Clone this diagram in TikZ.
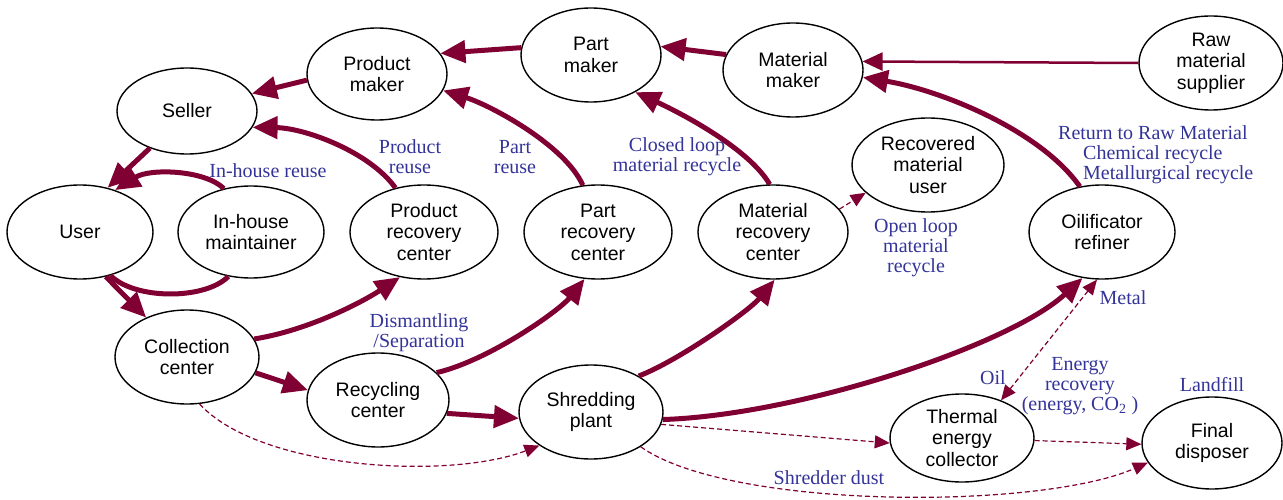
\documentclass[tikz,border=0pt]{standalone}
\usepackage{fontspec}
\setmainfont{Liberation Serif}
\setsansfont{Liberation Sans}
\usetikzlibrary{shapes.geometric,arrows.meta}
\definecolor{flow}{RGB}{128,0,51}
\definecolor{note}{RGB}{51,51,153}
\tikzset{
  actor/.style={ellipse, draw=black, line width=1.4pt, fill=white, inner sep=0pt,
    minimum width=146pt, minimum height=94pt, align=center,
    font=\sffamily\fontsize{19.5}{21.5}\selectfont},
  main/.style={draw=flow, line width=5pt, -{Triangle[length=25pt,width=22pt]}},
  feed/.style={draw=flow, line width=2.5pt, -{Triangle[length=20pt,width=18pt]}},
  side/.style={draw=flow, line width=1.2pt, dash pattern=on 5pt off 3pt,
    -{Triangle[length=15pt,width=13pt]}},
  tag/.style={text=note, align=center, inner sep=0pt,
    font=\rmfamily\fontsize{20}{20}\selectfont},
}
\begin{document}
\begin{tikzpicture}[x=1pt,y=-1pt]
\useasboundingbox (0,0) rectangle (1283,500);

% actors
\node[actor, minimum width=140pt, minimum height=86pt] (seller) at (187,111) {Seller};
\node[actor, minimum width=140pt, minimum height=92pt] (pm) at (377,74) {Product\\maker};
\node[actor, minimum width=140pt] (partm) at (591,55) {Part\\maker};
\node[actor, minimum width=140pt] (mm) at (793,70) {Material\\maker};
\node[actor, minimum width=144pt] (raw) at (1211,63) {Raw\\material\\supplier};
\node[actor] (user) at (80,232) {User};
\node[actor, minimum height=92pt] (ihm) at (251,232) {In-house\\maintainer};
\node[actor, minimum width=148pt] (prc) at (424,232) {Product\\recovery\\center};
\node[actor, minimum width=148pt] (parc) at (598,232) {Part\\recovery\\center};
\node[actor, minimum width=150pt] (mrc) at (773,232) {Material\\recovery\\center};
\node[actor, minimum width=152pt] (rmu) at (928,165) {Recovered\\material\\user};
\node[actor] (oil) at (1102,232) {Oilificator\\refiner};
\node[actor, minimum width=144pt] (cc) at (187,357) {Collection\\center};
\node[actor, minimum width=142pt] (rc) at (378,400) {Recycling\\center};
\node[actor, minimum width=144pt] (sp) at (591,412) {Shredding\\plant};
\node[actor, minimum width=144pt, minimum height=88pt] (tec) at (962,438) {Thermal\\energy\\collector};
\node[actor, minimum width=140pt, minimum height=92pt] (fd) at (1212,443) {Final\\disposer};

% forward supply chain
\draw[main] (pm.185) -- (seller.15);
\draw[main] (partm.174) -- (pm.18);
\draw[main] (mm.167) -- (partm.7);
\draw[feed] (raw.180) -- (mm.7);
\draw[main] (seller.225) -- (user.58);

% in-house loop
\draw[main] (ihm.122) .. controls (205,170) and (150,168) .. (user.50);
\draw[draw=flow, line width=5pt] (user.-55) .. controls (135,300) and (205,300) .. (ihm.243);

% collection and recovery
\draw[main] (user.300) -- (cc.136);
\draw[main] (cc.15) .. controls (310,330) and (364,301) .. (prc.242);
\draw[main] (cc.347) -- (rc.172);
\draw[main] (rc.25) .. controls (490,360) and (560,310) .. (parc.254);
\draw[main] (rc.349) -- (sp.185);
\draw[main] (sp.37) .. controls (680,360) and (750,310) .. (mrc.272);
\draw[main] (sp.354) .. controls (800,415) and (1010,345) .. (oil.247);

% reuse and recycle loops
\draw[main] (prc.123) .. controls (370,152) and (305,128) .. (seller.346);
\draw[main] (parc.108) .. controls (565,145) and (490,105) .. (pm.346);
\draw[main] (mrc.94) .. controls (750,150) and (685,115) .. (partm.320);
\draw[main] (oil.116) .. controls (1040,130) and (940,90) .. (mm.-6);

% secondary flows
\draw[side] (mrc.19) -- (rmu.204);
\draw[side] (cc.285) .. controls (260,470) and (450,480) .. (sp.213);
\draw[side] (sp.350) -- (tec.184);
\draw[side] (sp.325) .. controls (730,510) and (1040,510) .. (fd.197);
\draw[side] (tec.358) -- (fd.181);
\draw[side, {Triangle[length=15pt,width=13pt]}-{Triangle[length=15pt,width=13pt]}] (tec.44) -- (oil.264);

% flow labels
\node[tag] (tinhouse) at (268,171) {In-house reuse};
\node[tag] (tprod) at (410,157) {Product\\reuse};
\node[tag] (tpart) at (515,157) {Part\\reuse};
\node[tag] (tclosed) at (677,157) {Closed loop\\material recycle};
\node[tag, anchor=west, align=left] (traw) at (1083,155) {\hspace*{-25pt}Return to Raw Material\\Chemical recycle\\Metallurgical recycle};
\node[tag] (topen) at (916,248) {Open loop\\material\\recycle};
\node[tag] (tdis) at (419,333) {Dismantling\\/Separation};
\node[tag] (tdust) at (829,478) {Shredder dust};
\node[tag] (tmetal) at (1123,298) {Metal};
\node[tag] (toil) at (993,378) {Oil};
\node[tag] (tenergy) at (1080,386) {Energy\\recovery\\(energy, CO\textsubscript{2} )};
\node[tag] (tland) at (1212,385) {Landfill};
\end{tikzpicture}
\end{document}
